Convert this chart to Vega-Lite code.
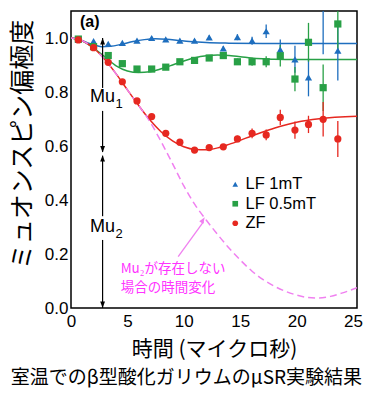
{
  "$schema": "https://vega.github.io/schema/vega-lite/v6.json",
  "width": 286,
  "height": 297,
  "autosize": "none",
  "padding": {"left": 71, "top": 11, "right": 13, "bottom": 92},
  "background": "white",
  "config": {
    "font": "Liberation Sans",
    "view": {"stroke": "black", "strokeWidth": 1.5},
    "axis": {"grid": false, "domain": false},
    "legend": {"orient": "none", "legendX": 156, "legendY": 165, "direction": "vertical", "labelFont": "Liberation Sans", "labelFontSize": 16.5, "labelColor": "black", "symbolSize": 32, "rowPadding": 2.5, "labelOffset": 2, "padding": 0}
  },
  "title": {
    "text": "室温でのβ型酸化ガリウムのμSR実験結果",
    "orient": "bottom",
    "anchor": "middle",
    "frame": "bounds",
    "font": "Noto Sans CJK JP",
    "fontSize": 19,
    "fontWeight": "normal",
    "color": "black",
    "offset": 10
  },
  "datasets": {
    "pts": [
      {"s": "LF 1mT", "t": 0.65, "y": 0.993, "lo": 0.989, "hi": 0.997},
      {"s": "LF 1mT", "t": 2.0, "y": 0.988, "lo": 0.984, "hi": 0.992},
      {"s": "LF 1mT", "t": 3.3, "y": 0.978, "lo": 0.974, "hi": 0.982},
      {"s": "LF 1mT", "t": 4.55, "y": 0.982, "lo": 0.978, "hi": 0.986},
      {"s": "LF 1mT", "t": 5.85, "y": 0.99, "lo": 0.986, "hi": 0.994},
      {"s": "LF 1mT", "t": 7.15, "y": 1.0, "lo": 0.995, "hi": 1.005},
      {"s": "LF 1mT", "t": 8.4, "y": 0.995, "lo": 0.99, "hi": 1.0},
      {"s": "LF 1mT", "t": 9.65, "y": 0.99, "lo": 0.985, "hi": 0.995},
      {"s": "LF 1mT", "t": 10.95, "y": 0.99, "lo": 0.984, "hi": 0.996},
      {"s": "LF 1mT", "t": 12.25, "y": 1.002, "lo": 0.995, "hi": 1.009},
      {"s": "LF 1mT", "t": 13.5, "y": 0.962, "lo": 0.954, "hi": 0.97},
      {"s": "LF 1mT", "t": 14.75, "y": 1.003, "lo": 0.992, "hi": 1.014},
      {"s": "LF 1mT", "t": 16.05, "y": 0.99, "lo": 0.975, "hi": 1.005},
      {"s": "LF 1mT", "t": 17.3, "y": 1.025, "lo": 1.0, "hi": 1.05},
      {"s": "LF 1mT", "t": 18.55, "y": 0.957, "lo": 0.92, "hi": 0.994},
      {"s": "LF 1mT", "t": 19.85, "y": 0.921, "lo": 0.871, "hi": 0.971},
      {"s": "LF 1mT", "t": 21.05, "y": 0.854, "lo": 0.784, "hi": 0.924},
      {"s": "LF 1mT", "t": 22.35, "y": 1.15, "lo": 0.94, "hi": 1.36},
      {"s": "LF 1mT", "t": 23.65, "y": 0.953, "lo": 0.843, "hi": 1.063},
      {"s": "LF 0.5mT", "t": 0.65, "y": 0.996, "lo": 0.992, "hi": 1.0},
      {"s": "LF 0.5mT", "t": 2.0, "y": 0.968, "lo": 0.964, "hi": 0.972},
      {"s": "LF 0.5mT", "t": 3.3, "y": 0.935, "lo": 0.931, "hi": 0.939},
      {"s": "LF 0.5mT", "t": 4.55, "y": 0.905, "lo": 0.901, "hi": 0.909},
      {"s": "LF 0.5mT", "t": 5.85, "y": 0.885, "lo": 0.88, "hi": 0.89},
      {"s": "LF 0.5mT", "t": 7.15, "y": 0.885, "lo": 0.88, "hi": 0.89},
      {"s": "LF 0.5mT", "t": 8.4, "y": 0.892, "lo": 0.887, "hi": 0.897},
      {"s": "LF 0.5mT", "t": 9.65, "y": 0.912, "lo": 0.906, "hi": 0.918},
      {"s": "LF 0.5mT", "t": 10.95, "y": 0.917, "lo": 0.911, "hi": 0.923},
      {"s": "LF 0.5mT", "t": 12.25, "y": 0.926, "lo": 0.919, "hi": 0.933},
      {"s": "LF 0.5mT", "t": 13.5, "y": 0.935, "lo": 0.927, "hi": 0.943},
      {"s": "LF 0.5mT", "t": 14.75, "y": 0.912, "lo": 0.9, "hi": 0.924},
      {"s": "LF 0.5mT", "t": 16.05, "y": 0.912, "lo": 0.897, "hi": 0.927},
      {"s": "LF 0.5mT", "t": 17.3, "y": 0.912, "lo": 0.892, "hi": 0.932},
      {"s": "LF 0.5mT", "t": 18.55, "y": 0.934, "lo": 0.894, "hi": 0.974},
      {"s": "LF 0.5mT", "t": 19.85, "y": 0.848, "lo": 0.803, "hi": 0.893},
      {"s": "LF 0.5mT", "t": 21.05, "y": 0.984, "lo": 0.912, "hi": 1.056},
      {"s": "LF 0.5mT", "t": 22.35, "y": 0.816, "lo": 0.73, "hi": 0.902},
      {"s": "LF 0.5mT", "t": 23.65, "y": 1.052, "lo": 0.955, "hi": 1.149},
      {"s": "ZF", "t": 0.65, "y": 0.993, "lo": 0.989, "hi": 0.997},
      {"s": "ZF", "t": 2.0, "y": 0.964, "lo": 0.96, "hi": 0.968},
      {"s": "ZF", "t": 3.3, "y": 0.91, "lo": 0.906, "hi": 0.914},
      {"s": "ZF", "t": 4.55, "y": 0.838, "lo": 0.834, "hi": 0.842},
      {"s": "ZF", "t": 5.85, "y": 0.767, "lo": 0.763, "hi": 0.771},
      {"s": "ZF", "t": 7.15, "y": 0.709, "lo": 0.704, "hi": 0.714},
      {"s": "ZF", "t": 8.4, "y": 0.647, "lo": 0.642, "hi": 0.652},
      {"s": "ZF", "t": 9.65, "y": 0.614, "lo": 0.609, "hi": 0.619},
      {"s": "ZF", "t": 10.95, "y": 0.585, "lo": 0.579, "hi": 0.591},
      {"s": "ZF", "t": 12.25, "y": 0.594, "lo": 0.586, "hi": 0.602},
      {"s": "ZF", "t": 13.5, "y": 0.597, "lo": 0.587, "hi": 0.607},
      {"s": "ZF", "t": 14.75, "y": 0.626, "lo": 0.614, "hi": 0.638},
      {"s": "ZF", "t": 16.05, "y": 0.647, "lo": 0.629, "hi": 0.665},
      {"s": "ZF", "t": 17.3, "y": 0.641, "lo": 0.621, "hi": 0.661},
      {"s": "ZF", "t": 18.55, "y": 0.706, "lo": 0.678, "hi": 0.734},
      {"s": "ZF", "t": 19.85, "y": 0.659, "lo": 0.627, "hi": 0.691},
      {"s": "ZF", "t": 21.05, "y": 0.68, "lo": 0.648, "hi": 0.712},
      {"s": "ZF", "t": 22.35, "y": 0.699, "lo": 0.635, "hi": 0.763},
      {"s": "ZF", "t": 23.65, "y": 0.626, "lo": 0.559, "hi": 0.693}
    ],
    "fit": [
      {"s": "LF 1mT", "t": 0, "y": 1.0},
      {"s": "LF 1mT", "t": 0.5, "y": 0.997},
      {"s": "LF 1mT", "t": 1, "y": 0.99},
      {"s": "LF 1mT", "t": 1.5, "y": 0.982},
      {"s": "LF 1mT", "t": 2, "y": 0.975},
      {"s": "LF 1mT", "t": 2.7, "y": 0.968},
      {"s": "LF 1mT", "t": 3.5, "y": 0.969},
      {"s": "LF 1mT", "t": 4.5, "y": 0.977},
      {"s": "LF 1mT", "t": 5.5, "y": 0.987},
      {"s": "LF 1mT", "t": 6.5, "y": 0.994},
      {"s": "LF 1mT", "t": 7.5, "y": 0.997},
      {"s": "LF 1mT", "t": 8.5, "y": 0.995},
      {"s": "LF 1mT", "t": 9.5, "y": 0.991},
      {"s": "LF 1mT", "t": 10.5, "y": 0.987},
      {"s": "LF 1mT", "t": 12, "y": 0.983},
      {"s": "LF 1mT", "t": 14, "y": 0.981},
      {"s": "LF 1mT", "t": 17, "y": 0.98},
      {"s": "LF 1mT", "t": 20, "y": 0.98},
      {"s": "LF 1mT", "t": 25.35, "y": 0.98},
      {"s": "LF 0.5mT", "t": 0, "y": 1.0},
      {"s": "LF 0.5mT", "t": 1, "y": 0.99},
      {"s": "LF 0.5mT", "t": 2, "y": 0.963},
      {"s": "LF 0.5mT", "t": 3, "y": 0.93},
      {"s": "LF 0.5mT", "t": 4, "y": 0.897},
      {"s": "LF 0.5mT", "t": 5, "y": 0.878},
      {"s": "LF 0.5mT", "t": 6, "y": 0.872},
      {"s": "LF 0.5mT", "t": 7, "y": 0.875},
      {"s": "LF 0.5mT", "t": 8, "y": 0.886},
      {"s": "LF 0.5mT", "t": 9, "y": 0.9},
      {"s": "LF 0.5mT", "t": 10, "y": 0.915},
      {"s": "LF 0.5mT", "t": 11, "y": 0.927},
      {"s": "LF 0.5mT", "t": 12, "y": 0.934},
      {"s": "LF 0.5mT", "t": 13, "y": 0.937},
      {"s": "LF 0.5mT", "t": 14, "y": 0.935},
      {"s": "LF 0.5mT", "t": 15, "y": 0.931},
      {"s": "LF 0.5mT", "t": 16, "y": 0.926},
      {"s": "LF 0.5mT", "t": 17, "y": 0.923},
      {"s": "LF 0.5mT", "t": 18, "y": 0.921},
      {"s": "LF 0.5mT", "t": 20, "y": 0.92},
      {"s": "LF 0.5mT", "t": 25.35, "y": 0.92},
      {"s": "ZF", "t": 0, "y": 1.0},
      {"s": "ZF", "t": 1, "y": 0.99},
      {"s": "ZF", "t": 2, "y": 0.963},
      {"s": "ZF", "t": 3, "y": 0.92},
      {"s": "ZF", "t": 4, "y": 0.867},
      {"s": "ZF", "t": 5, "y": 0.808},
      {"s": "ZF", "t": 6, "y": 0.75},
      {"s": "ZF", "t": 7, "y": 0.696},
      {"s": "ZF", "t": 8, "y": 0.652},
      {"s": "ZF", "t": 9, "y": 0.619},
      {"s": "ZF", "t": 10, "y": 0.597},
      {"s": "ZF", "t": 11, "y": 0.587},
      {"s": "ZF", "t": 12, "y": 0.586},
      {"s": "ZF", "t": 13, "y": 0.593},
      {"s": "ZF", "t": 14, "y": 0.606},
      {"s": "ZF", "t": 15, "y": 0.621},
      {"s": "ZF", "t": 16, "y": 0.637},
      {"s": "ZF", "t": 17, "y": 0.652},
      {"s": "ZF", "t": 18, "y": 0.666},
      {"s": "ZF", "t": 19, "y": 0.678},
      {"s": "ZF", "t": 20, "y": 0.688},
      {"s": "ZF", "t": 22, "y": 0.701},
      {"s": "ZF", "t": 25.35, "y": 0.71}
    ],
    "nomu": [
      {"t": 0, "y": 1.0},
      {"t": 1, "y": 0.99},
      {"t": 2, "y": 0.963},
      {"t": 3, "y": 0.92},
      {"t": 4, "y": 0.867},
      {"t": 5, "y": 0.808},
      {"t": 6, "y": 0.75},
      {"t": 7, "y": 0.69},
      {"t": 8, "y": 0.615},
      {"t": 9, "y": 0.535},
      {"t": 10, "y": 0.452},
      {"t": 11, "y": 0.382},
      {"t": 12, "y": 0.325},
      {"t": 13, "y": 0.272},
      {"t": 14, "y": 0.222},
      {"t": 15, "y": 0.178},
      {"t": 16, "y": 0.138},
      {"t": 17, "y": 0.106},
      {"t": 18, "y": 0.081},
      {"t": 19, "y": 0.062},
      {"t": 20, "y": 0.048},
      {"t": 21, "y": 0.039},
      {"t": 22, "y": 0.037},
      {"t": 23, "y": 0.043},
      {"t": 24, "y": 0.055},
      {"t": 25.35, "y": 0.075}
    ],
    "vseg": [
      {"t": 2.8, "a": 1.0, "b": 0.815},
      {"t": 2.8, "a": 0.73, "b": 0.578},
      {"t": 2.8, "a": 0.564, "b": 0.34},
      {"t": 2.8, "a": 0.252, "b": 0.0}
    ],
    "headsUp": [
      {"t": 2.8, "y": 1.0},
      {"t": 2.8, "y": 0.566}
    ],
    "headsDown": [
      {"t": 2.8, "y": 0.576},
      {"t": 2.8, "y": 0.0}
    ],
    "mu": [
      {"t": 2.8, "y": 0.783, "main": "Mu", "sub": "1"},
      {"t": 2.8, "y": 0.3, "main": "Mu", "sub": "2"}
    ],
    "pinkText": [
      {"t": 4.4, "y": 0.143, "txt": "Mu₂が存在しない"},
      {"t": 4.4, "y": 0.074, "txt": "場合の時間変化"}
    ],
    "pinkArrow": [
      {"t": 9.5, "y": 0.19, "t2": 11.75, "y2": 0.32}
    ],
    "pinkHead": [
      {"t": 11.86, "y": 0.336}
    ],
    "panel": [
      {"t": 0.8, "y": 1.06, "txt": "(a)"}
    ]
  },
  "layer": [
    {
      "data": {"name": "fit"},
      "mark": {"type": "line", "interpolate": "monotone", "strokeWidth": 1.5, "clip": true},
      "encoding": {
        "x": {
          "field": "t", "type": "quantitative",
          "scale": {"domain": [0, 25.35], "nice": false, "zero": false},
          "axis": {
            "orient": "bottom",
            "values": [0,1,2,3,4,5,6,7,8,9,10,11,12,13,14,15,16,17,18,19,20,21,22,23,24,25],
            "labelExpr": "datum.value % 5 === 0 ? datum.label : ''",
            "labelFont": "Liberation Sans", "labelFontSize": 17, "labelColor": "black",
            "labelPadding": 5, "labelOverlap": false, "labelFlush": false,
            "tickSize": 0, "tickColor": "black", "tickWidth": 1.2,
            "domain": false, "grid": false,
            "title": "時間 (マイクロ秒)",
            "titleFont": "Noto Sans CJK JP", "titleFontSize": 21, "titleFontWeight": "normal",
            "titleColor": "black", "titlePadding": 9,
            "encode": {"ticks": {"update": {"y2": {"signal": "datum.value % 5 === 0 ? -7 : -4"}}}}
          }
        },
        "y": {
          "field": "y", "type": "quantitative",
          "scale": {"domain": [0, 1.1], "nice": false, "zero": false},
          "axis": {
            "orient": "left",
            "values": [0,0.1,0.2,0.3,0.4,0.5,0.6,0.7,0.8,0.9,1.0],
            "labelExpr": "round(datum.value*10) % 2 === 0 ? format(datum.value, '.1f') : ''",
            "labelFont": "Liberation Sans", "labelFontSize": 17, "labelColor": "black",
            "labelPadding": 3, "labelOverlap": false, "labelFlush": false,
            "tickSize": 0, "tickColor": "black", "tickWidth": 1.2,
            "domain": false, "grid": false,
            "title": "ミュオンスピン偏極度",
            "titleFont": "Noto Sans CJK JP", "titleFontSize": 25, "titleFontWeight": "normal",
            "titleColor": "black", "titlePadding": 9, "titleY": 133,
            "encode": {"ticks": {"update": {"x2": {"signal": "round(datum.value*10) % 2 === 0 ? 7 : 4"}}}}
          }
        },
        "stroke": {
          "field": "s", "type": "nominal",
          "scale": {"domain": ["ZF", "LF 0.5mT", "LF 1mT"], "range": ["#e62820", "#28a046", "#1e6ebe"]},
          "legend": null
        }
      }
    },
    {
      "data": {"name": "nomu"},
      "mark": {"type": "line", "interpolate": "monotone", "stroke": "#f080f0", "strokeWidth": 1.5, "strokeDash": [7, 4], "clip": true},
      "encoding": {
        "x": {
          "field": "t", "type": "quantitative",
          "axis": {
            "orient": "top",
            "values": [0,1,2,3,4,5,6,7,8,9,10,11,12,13,14,15,16,17,18,19,20,21,22,23,24,25],
            "labels": false, "domain": false, "grid": false, "title": null,
            "tickSize": 0, "tickColor": "black", "tickWidth": 1.2,
            "encode": {"ticks": {"update": {"y2": {"signal": "datum.value % 5 === 0 ? 6 : 4"}}}}
          }
        },
        "y": {
          "field": "y", "type": "quantitative",
          "axis": {
            "orient": "right",
            "values": [0,0.1,0.2,0.3,0.4,0.5,0.6,0.7,0.8,0.9,1.0],
            "labels": false, "domain": false, "grid": false, "title": null,
            "tickSize": 0, "tickColor": "black", "tickWidth": 1.2,
            "encode": {"ticks": {"update": {"x2": {"signal": "-6"}}}}
          }
        }
      }
    },
    {
      "mark": {"type": "rule", "stroke": "black", "strokeWidth": 1.3, "strokeDash": [5, 3]},
      "encoding": {"y": {"datum": 0.571, "type": "quantitative", "axis": null}}
    },
    {
      "data": {"name": "vseg"},
      "mark": {"type": "rule", "stroke": "black", "strokeWidth": 1.2},
      "encoding": {
        "x": {"field": "t", "type": "quantitative", "axis": null},
        "y": {"field": "a", "type": "quantitative", "axis": null},
        "y2": {"field": "b"}
      }
    },
    {
      "data": {"name": "headsUp"},
      "mark": {"type": "point", "shape": "M0,0L0.6,1.6L-0.6,1.6Z", "filled": true, "color": "black", "opacity": 1, "size": 64},
      "encoding": {
        "x": {"field": "t", "type": "quantitative", "axis": null},
        "y": {"field": "y", "type": "quantitative", "axis": null}
      }
    },
    {
      "data": {"name": "headsDown"},
      "mark": {"type": "point", "shape": "M0,0L0.6,-1.6L-0.6,-1.6Z", "filled": true, "color": "black", "opacity": 1, "size": 64},
      "encoding": {
        "x": {"field": "t", "type": "quantitative", "axis": null},
        "y": {"field": "y", "type": "quantitative", "axis": null}
      }
    },
    {
      "data": {"name": "pts"},
      "mark": {"type": "rule", "strokeWidth": 1.3, "clip": true},
      "encoding": {
        "x": {"field": "t", "type": "quantitative", "axis": null},
        "y": {"field": "lo", "type": "quantitative", "axis": null},
        "y2": {"field": "hi"},
        "stroke": {"field": "s", "type": "nominal", "legend": null}
      }
    },
    {
      "data": {"name": "pts"},
      "mark": {"type": "point", "filled": true, "opacity": 1, "size": 52, "clip": true},
      "encoding": {
        "x": {"field": "t", "type": "quantitative", "axis": null},
        "y": {"field": "y", "type": "quantitative", "axis": null},
        "color": {
          "field": "s", "type": "nominal",
          "scale": {"domain": ["LF 1mT", "LF 0.5mT", "ZF"], "range": ["#1e6ebe", "#28a046", "#e62820"]},
          "legend": {"title": null}
        },
        "shape": {
          "field": "s", "type": "nominal",
          "scale": {"domain": ["LF 1mT", "LF 0.5mT", "ZF"], "range": ["triangle-up", "square", "circle"]},
          "legend": {"title": null}
        }
      }
    },
    {
      "data": {"name": "mu"},
      "mark": {"type": "text", "font": "Liberation Sans", "fontSize": 18, "align": "center", "baseline": "middle", "color": "black"},
      "encoding": {
        "x": {"field": "t", "type": "quantitative", "axis": null},
        "y": {"field": "y", "type": "quantitative", "axis": null},
        "text": {"field": "main"}
      }
    },
    {
      "data": {"name": "mu"},
      "mark": {"type": "text", "font": "Liberation Sans", "fontSize": 13, "align": "left", "baseline": "middle", "color": "black", "dx": 13, "dy": 7},
      "encoding": {
        "x": {"field": "t", "type": "quantitative", "axis": null},
        "y": {"field": "y", "type": "quantitative", "axis": null},
        "text": {"field": "sub"}
      }
    },
    {
      "data": {"name": "pinkArrow"},
      "mark": {"type": "rule", "stroke": "#f080f0", "strokeWidth": 1.3},
      "encoding": {
        "x": {"field": "t", "type": "quantitative", "axis": null},
        "y": {"field": "y", "type": "quantitative", "axis": null},
        "x2": {"field": "t2"},
        "y2": {"field": "y2"}
      }
    },
    {
      "data": {"name": "pinkHead"},
      "mark": {"type": "point", "shape": "M0,0L0.6,1.6L-0.6,1.6Z", "filled": true, "color": "#f080f0", "opacity": 1, "size": 64, "angle": 34},
      "encoding": {
        "x": {"field": "t", "type": "quantitative", "axis": null},
        "y": {"field": "y", "type": "quantitative", "axis": null}
      }
    },
    {
      "data": {"name": "pinkText"},
      "mark": {"type": "text", "font": "Noto Sans CJK JP", "fontSize": 13.5, "align": "left", "baseline": "middle", "color": "#ff33ff"},
      "encoding": {
        "x": {"field": "t", "type": "quantitative", "axis": null},
        "y": {"field": "y", "type": "quantitative", "axis": null},
        "text": {"field": "txt"}
      }
    },
    {
      "data": {"name": "panel"},
      "mark": {"type": "text", "font": "Liberation Sans", "fontSize": 16, "fontWeight": "bold", "align": "left", "baseline": "middle", "color": "black"},
      "encoding": {
        "x": {"field": "t", "type": "quantitative", "axis": null},
        "y": {"field": "y", "type": "quantitative", "axis": null},
        "text": {"field": "txt"}
      }
    }
  ],
  "resolve": {"axis": {"x": "independent", "y": "independent"}}
}
